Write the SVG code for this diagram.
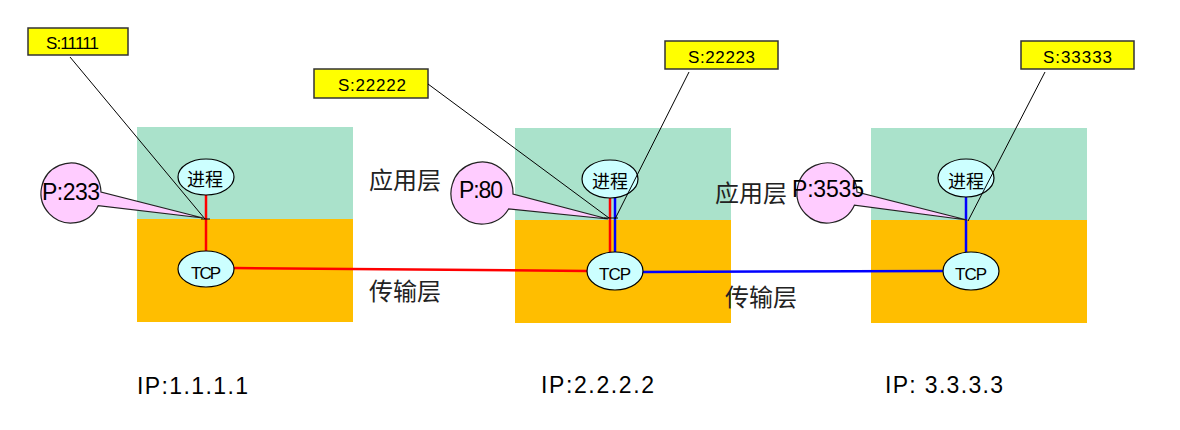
<svg xmlns="http://www.w3.org/2000/svg" width="1180" height="430" viewBox="0 0 1180 430">
<style>
.app{fill:#AAE2CB}
.trn{fill:#FFBE00}
.proc{fill:#CCFFFF;stroke:#000;stroke-width:1.2}
.pt{font-family:"Liberation Sans",sans-serif;font-size:17px;fill:#000}
.cn{font-family:"Noto Sans CJK SC",sans-serif;fill:#000}
.lbl{font-family:"Noto Sans CJK SC",sans-serif;font-size:24px;fill:#222}
.sock{fill:#FFFF00;stroke:#333;stroke-width:1.5}
.st{font-family:"Liberation Sans",sans-serif;font-size:17px;fill:#000}
.port{fill:#FFCCFF;stroke:#222;stroke-width:1.2}
.ptx{font-family:"Liberation Sans",sans-serif;font-size:23px;fill:#000}
.ip{font-family:"Liberation Sans",sans-serif;font-size:23px;fill:#000}
.red{stroke:#FF0000;stroke-width:2.5;fill:none}
.blue{stroke:#0000FF;stroke-width:2.5;fill:none}
.cl{stroke:#000;stroke-width:1;fill:none}
</style>
<rect width="1180" height="430" fill="#fff"/>
<g id="host1">
<rect class="app" x="137" y="127" width="216" height="92"/>
<rect class="trn" x="137" y="219" width="216" height="103"/>
</g>
<g id="host2">
<rect class="app" x="515" y="128" width="216" height="92"/>
<rect class="trn" x="515" y="220" width="216" height="103"/>
</g>
<g id="host3">
<rect class="app" x="871" y="128" width="216" height="92"/>
<rect class="trn" x="871" y="220" width="216" height="103"/>
</g>
<g id="layer-labels">
<text class="lbl" x="369" y="189" textLength="72">应用层</text>
<text class="lbl" x="369" y="300" textLength="72">传输层</text>
<text class="lbl" x="715" y="202" textLength="72">应用层</text>
<text class="lbl" x="725" y="306" textLength="72">传输层</text>
</g>
<g id="connectors">
<line class="red" x1="206" y1="195" x2="206" y2="251"/>
<line class="red" x1="234" y1="268" x2="588" y2="271"/>
<line class="red" x1="610" y1="197" x2="610" y2="253"/>
<line class="blue" x1="615" y1="197" x2="615" y2="253"/>
<line class="blue" x1="643" y1="272" x2="943" y2="271"/>
<line class="blue" x1="966" y1="196" x2="966" y2="252"/>
</g>
<g id="proc1">
<ellipse class="proc" cx="206" cy="177" rx="28" ry="18"/>
<text class="cn" x="187" y="186" font-size="18" textLength="36">进程</text>
</g>
<g id="tcp1">
<ellipse class="proc" cx="206" cy="269" rx="28" ry="18"/>
<text class="pt" x="191" y="279" textLength="30">TCP</text>
</g>
<g id="proc2">
<ellipse class="proc" cx="610" cy="179" rx="28" ry="19"/>
<text class="cn" x="592" y="188" font-size="18" textLength="36">进程</text>
</g>
<g id="tcp2">
<ellipse class="proc" cx="615" cy="271" rx="28" ry="19"/>
<text class="pt" x="599" y="280" textLength="32">TCP</text>
</g>
<g id="proc3">
<ellipse class="proc" cx="966" cy="178" rx="28" ry="19"/>
<text class="cn" x="948" y="188" font-size="18" textLength="36">进程</text>
</g>
<g id="tcp3">
<ellipse class="proc" cx="971" cy="271" rx="28" ry="19"/>
<text class="pt" x="955" y="280" textLength="32">TCP</text>
</g>
<g id="port1">
<path class="port" d="M98.2 205.7 A30 30 0 1 1 101 192 L203 218 Z"/>
<text class="ptx" x="42" y="200" textLength="58">P:233</text>
</g>
<g id="port2">
<path class="port" d="M508.6 209 A31 31 0 1 1 513 194 L608 219 Z"/>
<text class="ptx" x="459" y="198" textLength="44">P:80</text>
</g>
<g id="port3">
<path class="port" d="M854.4 205.2 A30 30 0 1 1 857 192 L967 220 Z"/>
<text class="ptx" x="792" y="197" textLength="72">P:3535</text>
</g>
<g id="sock1">
<rect class="sock" x="28" y="28" width="100" height="27"/>
<text class="st" x="46" y="49" textLength="53">S:11111</text>
<path class="cl" d="M70 57 L205 219 M201 219 L210 219"/>
</g>
<g id="sock2">
<rect class="sock" x="314" y="69" width="114" height="29"/>
<text class="st" x="338" y="91" textLength="68">S:22222</text>
<path class="cl" d="M428 84 L609 218 M604 218 L618 218"/>
</g>
<g id="sock3">
<rect class="sock" x="665" y="41" width="113" height="28"/>
<text class="st" x="688" y="63" textLength="67">S:22223</text>
<path class="cl" d="M689 72 L615 219"/>
</g>
<g id="sock4">
<rect class="sock" x="1021" y="41" width="113" height="28"/>
<text class="st" x="1043" y="63" textLength="69">S:33333</text>
<path class="cl" d="M1045 72 L968 221"/>
</g>
<g id="ips">
<text class="ip" x="137" y="394" textLength="111">IP:1.1.1.1</text>
<text class="ip" x="541" y="393" textLength="113">IP:2.2.2.2</text>
<text class="ip" x="885" y="393" textLength="118">IP: 3.3.3.3</text>
</g>
</svg>
